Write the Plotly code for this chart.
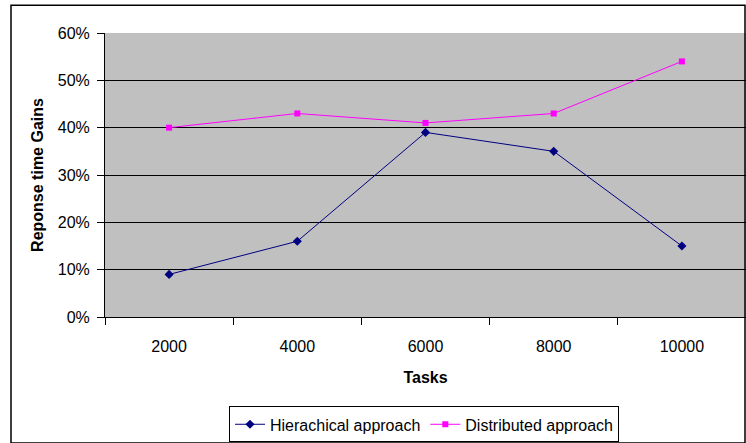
import plotly.graph_objects as go

tasks = ["2000", "4000", "6000", "8000", "10000"]
hierarchical = [0.09, 0.16, 0.39, 0.35, 0.15]
distributed = [0.40, 0.43, 0.41, 0.43, 0.54]

W, H = 746, 443
L, R, T, B = 105, 0, 33, 124
pw = W - L - R
ph = H - T - B

FONT = "Liberation Sans, Arial, sans-serif"

fig = go.Figure()
fig.add_trace(go.Scatter(
    x=tasks, y=hierarchical, mode="lines+markers", name="Hierachical approach",
    line=dict(color="#000080", width=1),
    marker=dict(symbol="diamond", size=7, color="#000080"),
))
fig.add_trace(go.Scatter(
    x=tasks, y=distributed, mode="lines+markers", name="Distributed approach",
    line=dict(color="#FF00FF", width=1),
    marker=dict(symbol="square", size=6, color="#FF00FF"),
))

fig.update_layout(
    width=W, height=H,
    margin=dict(l=L, r=R, t=T, b=B),
    paper_bgcolor="white",
    plot_bgcolor="#C0C0C0",
    font=dict(family=FONT, size=16, color="black"),
    showlegend=True,
    legend=dict(
        orientation="h", x=(424 - L) / pw, xanchor="center",
        y=(T + ph - 409) / ph, yanchor="top",
        bordercolor="black", borderwidth=1, bgcolor="white",
        font=dict(family=FONT, size=16),
        itemwidth=30, tracegroupgap=0,
    ),
    xaxis=dict(
        type="category", range=[-0.5, 4.5], tickson="boundaries",
        ticks="outside", ticklen=7, tickcolor="black",
        ticklabelstandoff=15,
        showline=True, linecolor="black", linewidth=1,
        showgrid=False,
        title=dict(text="<b>Tasks</b>", standoff=17, font=dict(size=16)),
    ),
    yaxis=dict(
        range=[0, 0.6], dtick=0.1, tickformat=".0%",
        ticks="outside", ticklen=7, tickcolor="black",
        ticklabelstandoff=4,
        showline=True, linecolor="black", linewidth=1,
        showgrid=True, gridcolor="black", gridwidth=1,
        zeroline=False,
        title=dict(text="<b>Reponse time Gains</b>", standoff=10, font=dict(size=16)),
    ),
    shapes=[dict(
        type="rect", xref="paper", yref="paper",
        x0=(11 - L) / pw, x1=(745 - L) / pw,
        y0=(T + ph - 446) / ph, y1=(T + ph - 5) / ph,
        line=dict(color="black", width=1.5), fillcolor="rgba(0,0,0,0)",
        layer="above",
    )],
)

fig.write_html("out.html", config={"displayModeBar": False},
               post_script="document.body.style.margin='0';")
